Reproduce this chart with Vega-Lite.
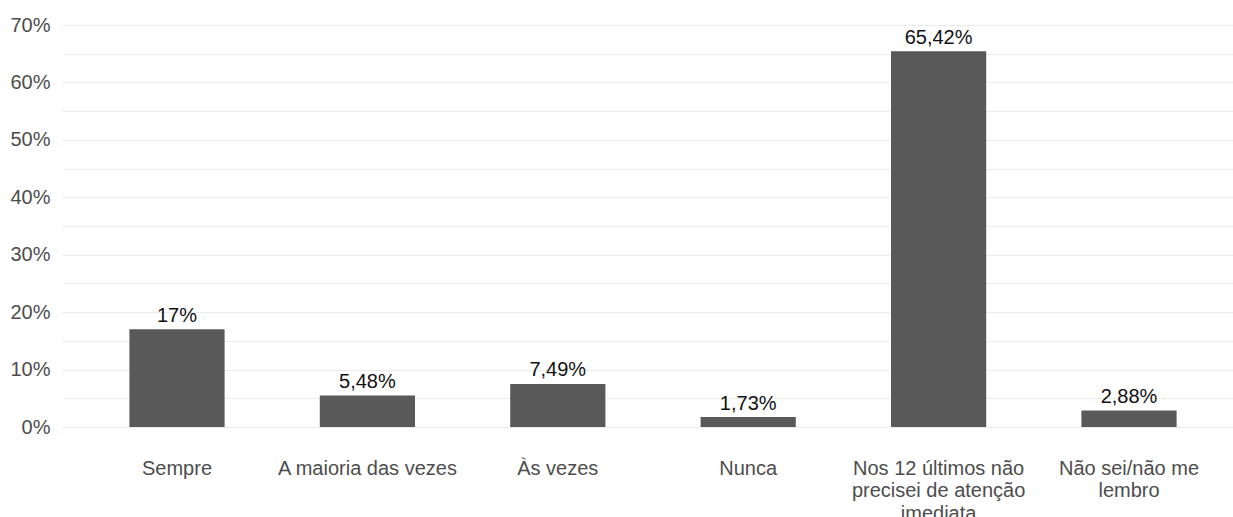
{
  "$schema": "https://vega.github.io/schema/vega-lite/v6.json",
  "autosize": "none",
  "width": 1171,
  "height": 402,
  "padding": {"left": 62, "top": 25, "right": 0, "bottom": 90},
  "background": "white",
  "config": {
    "view": {"stroke": null},
    "font": "Liberation Sans"
  },
  "data": {
    "values": [
      {"categoria": "Sempre", "pct": 17.0, "rotulo": "17%"},
      {"categoria": "A maioria das vezes", "pct": 5.48, "rotulo": "5,48%"},
      {"categoria": "Às vezes", "pct": 7.49, "rotulo": "7,49%"},
      {"categoria": "Nunca", "pct": 1.73, "rotulo": "1,73%"},
      {"categoria": "Nos 12 últimos não precisei de atenção imediata", "pct": 65.42, "rotulo": "65,42%"},
      {"categoria": "Não sei/não me lembro", "pct": 2.88, "rotulo": "2,88%"}
    ]
  },
  "encoding": {
    "x": {
      "field": "categoria",
      "type": "nominal",
      "sort": null,
      "scale": {"range": [0, 1182], "paddingInner": 0.5, "paddingOuter": 0.354},
      "axis": {
        "title": null,
        "labelAngle": 0,
        "ticks": false,
        "tickSize": 0,
        "domain": false,
        "grid": false,
        "labelPadding": 31,
        "labelFontSize": 20,
        "labelColor": "#4d4d4d",
        "labelLineHeight": 22.5,
        "labelLimit": 400,
        "labelExpr": "datum.value == 'Nos 12 últimos não precisei de atenção imediata' ? ['Nos 12 últimos não', 'precisei de atenção', 'imediata'] : datum.value == 'Não sei/não me lembro' ? ['Não sei/não me', 'lembro'] : datum.value"
      }
    },
    "y": {
      "field": "pct",
      "type": "quantitative",
      "scale": {"domain": [0, 70], "nice": false},
      "axis": {
        "title": null,
        "values": [0, 5, 10, 15, 20, 25, 30, 35, 40, 45, 50, 55, 60, 65, 70],
        "labelExpr": "datum.value % 10 == 0 ? datum.value + '%' : ''",
        "ticks": false,
        "domain": false,
        "gridColor": "#ebebeb",
        "gridWidth": 1.2,
        "labelPadding": 12,
        "labelFontSize": 20,
        "labelColor": "#4d4d4d"
      }
    }
  },
  "layer": [
    {"mark": {"type": "bar", "color": "#595959"}},
    {
      "mark": {"type": "text", "baseline": "alphabetic", "dy": -7.5, "fontSize": 20, "color": "#111111"},
      "encoding": {"text": {"field": "rotulo"}}
    }
  ]
}
